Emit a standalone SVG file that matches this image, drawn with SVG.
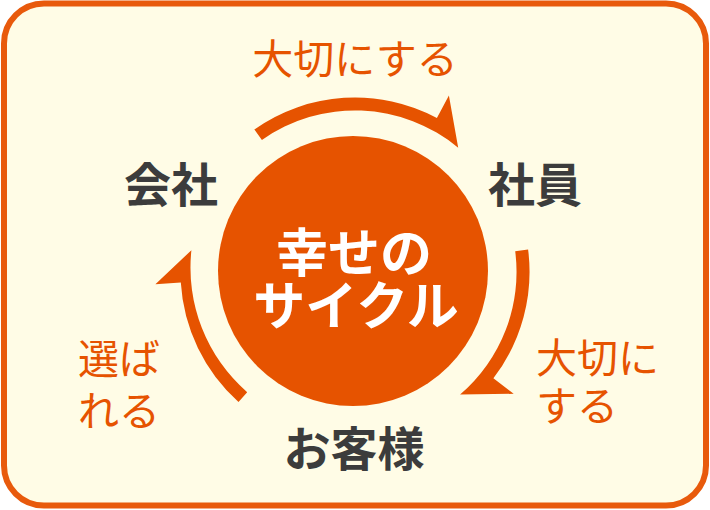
<svg xmlns="http://www.w3.org/2000/svg" width="710" height="510" viewBox="0 0 710 510">
<style>
.bg{fill:#FFFCE6;stroke:#E85A0C;stroke-width:6}
.arc{fill:#E65300}
.hub{fill:#E65300}
.hubt{font-family:"Noto Sans CJK JP","Noto Sans",sans-serif;font-weight:700;font-size:52px;fill:#FFFFFF;text-anchor:middle}
.node{font-family:"Noto Sans CJK JP","Noto Sans",sans-serif;font-weight:700;font-size:47px;fill:#3C3C3C;text-anchor:middle}
.lbl{font-family:"Noto Sans CJK JP","Noto Sans",sans-serif;font-weight:400;font-size:41px;fill:#E65300}
</style>
<rect class="bg" x="4" y="3.5" width="702" height="502" rx="40" ry="40"/>
<g id="hub">
<circle class="hub" cx="353" cy="271" r="135"/>
<text class="hubt"><tspan x="354" y="272">幸せの</tspan><tspan x="356" y="325">サイクル</tspan></text>
</g>
<g id="company"><text class="node" x="171" y="202">会社</text></g>
<g id="employee"><text class="node" x="535" y="202">社員</text></g>
<g id="customer"><text class="node" x="354" y="466">お客様</text></g>
<g id="connectors">
<path class="arc" d="M254.4,129.4 A174.5,174.5 0 0 1 436.9,117.9 L448.9,95.4 L458.2,147.7 A161.5,161.5 0 0 0 261.9,140.0 Z"/>
<path class="arc" d="M528.1,249.5 A174.5,174.5 0 0 1 493.4,378.2 L513.7,393.8 L460.1,394.6 A161.5,161.5 0 0 0 515.2,251.2 Z"/>
<path class="arc" d="M238.5,401.9 A174.5,174.5 0 0 1 180.8,282.6 L155.4,284.2 L191.4,250.2 A165,165 0 0 0 247.2,392.2 Z"/>
<text class="lbl" x="355" y="74" text-anchor="middle">大切にする</text>
<text class="lbl"><tspan x="536" y="373">大切に</tspan><tspan x="536" y="421">する</tspan></text>
<text class="lbl"><tspan x="78" y="374">選ば</tspan><tspan x="78" y="426">れる</tspan></text>
</g>
</svg>
